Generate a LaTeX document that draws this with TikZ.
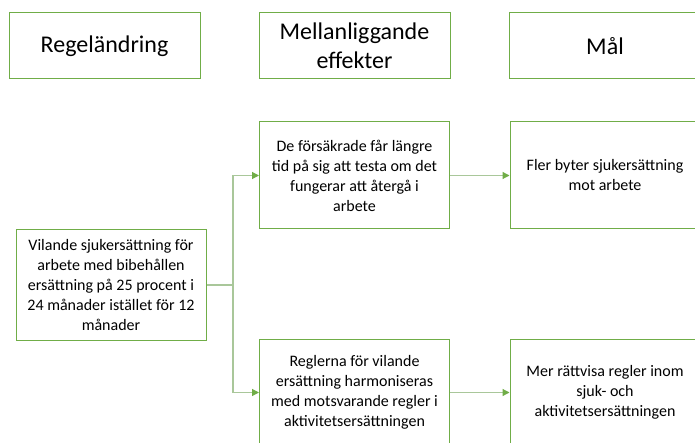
\documentclass[tikz,border=0pt]{standalone}
\usepackage{fontspec}
\setmainfont{Carlito}
\usepackage{xcolor}
\usetikzlibrary{positioning,arrows.meta}

\definecolor{boxgreen}{HTML}{70AD47}
\definecolor{linegreen}{HTML}{A9C79A}

\tikzset{
  header/.style={draw=boxgreen, line width=1pt, minimum width=191pt, minimum height=66pt, align=center, font=\fontsize{24}{29}\selectfont, inner sep=0pt},
  textbox/.style={draw=boxgreen, line width=1pt, minimum width=190pt, minimum height=107pt, align=center, font=\fontsize{16}{20}\selectfont, inner sep=0pt},
  conn/.style={draw=linegreen, line width=1.2pt},
  arr/.style={conn, -{Triangle[length=7pt,width=7pt,color=boxgreen]}}
}

\begin{document}
\begin{tikzpicture}[x=1pt, y=-1pt]
\clip (0,0) rectangle (695,443);
\fill[white] (0,0) rectangle (695,443);

% rubriker
\node[header] (rubrik1) at (104.5,46) {Regeländring};
\node[header] (rubrik2) at (354.5,46) {Mellanliggande\\effekter};
\node[header] (rubrik3) at (605,46) {Mål};

% rutor
\node[textbox, minimum height=111pt] (regel) at (111,285) {Vilande sjukersättning för\\arbete med bibehållen\\ersättning på 25 procent i\\24 månader istället för 12\\månader};
\node[textbox] (effekt1) at (354.5,175.5) {De försäkrade får längre\\tid på sig att testa om det\\fungerar att återgå i\\arbete};
\node[textbox] (effekt2) at (354.5,392.5) {Reglerna för vilande\\ersättning harmoniseras\\med motsvarande regler i\\aktivitetsersättningen};
\node[textbox] (mal1) at (605,175.5) {Fler byter sjukersättning\\mot arbete};
\node[textbox] (mal2) at (605,392.5) {Mer rättvisa regler inom\\sjuk- och\\aktivitetsersättningen};

% pilar
\coordinate (delning) at (233,285);
\draw[conn] (regel.east) -- (delning);
\draw[arr] (delning) |- (effekt1.west);
\draw[arr] (delning) |- (effekt2.west);
\draw[arr] (effekt1.east) -- (mal1.west);
\draw[arr] (effekt2.east) -- (mal2.west);

\end{tikzpicture}
\end{document}
